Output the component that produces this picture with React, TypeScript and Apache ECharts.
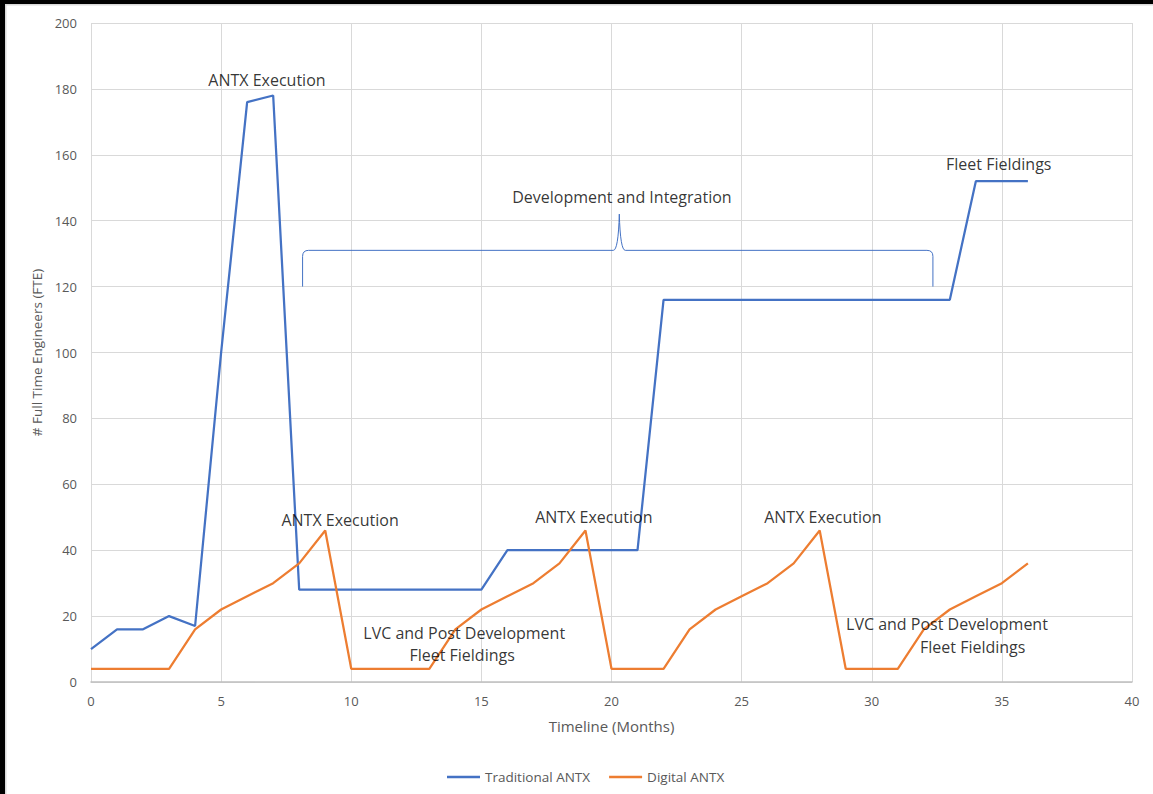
import React, { useEffect, useRef } from "react";
import * as echarts from "echarts";

const months = [
  0, 1, 2, 3, 4, 5, 6, 7, 8, 9, 10, 11, 12, 13, 14, 15, 16, 17, 18, 19, 20, 21, 22, 23, 24, 25, 26, 27, 28, 29, 30,
  31, 32, 33, 34, 35, 36,
];
const traditional = [
  10, 16, 16, 20, 17, 100, 176, 178, 28, 28, 28, 28, 28, 28, 28, 28, 40, 40, 40, 40, 40, 40, 116, 116, 116, 116, 116,
  116, 116, 116, 116, 116, 116, 116, 152, 152, 152,
];
const digital = [
  4, 4, 4, 4, 16, 22, 26, 30, 36, 46, 4, 4, 4, 4, 16, 22, 26, 30, 36, 46, 4, 4, 4, 16, 22, 26, 30, 36, 46, 4, 4, 4, 16,
  22, 26, 30, 36,
];

const seriesNames = ["Traditional ANTX", "Digital ANTX"];

const annotationTexts = [
  "ANTX Execution",
  "ANTX Execution",
  "ANTX Execution",
  "ANTX Execution",
  "Fleet Fieldings",
  "Development and Integration",
  "LVC and Post Development",
  "Fleet Fieldings",
  "LVC and Post Development",
  "Fleet Fieldings",
];
const annotationX = [6.76, 9.57, 19.32, 28.12, 34.88, 20.4, 14.34, 14.26, 32.89, 33.88];
const annotationY = [182.7, 49.2, 50.1, 50.1, 157.2, 147.2, 14.9, 8.2, 17.6, 10.6];

const braceX = [8.13, 20.3, 32.35];
const braceY = [120, 131, 142];

const FONT = "'Open Sans', sans-serif";

export default function App() {
  const ref = useRef<HTMLDivElement>(null);

  useEffect(() => {
    if (!ref.current) return;
    const chart = echarts.init(ref.current, undefined, { renderer: "svg" });

    const option: any = {
      animation: false,
      backgroundColor: "#ffffff",
      textStyle: { fontFamily: FONT },
      grid: { left: 91, right: 21, top: 23, bottom: 112, containLabel: false },
      legend: {
        data: seriesNames,
        bottom: 10,
        left: 447,
        padding: 0,
        icon: "rect",
        itemWidth: 33,
        itemHeight: 2.5,
        itemGap: 19,
        textStyle: { color: "#595959", fontSize: 13.5, fontFamily: FONT },
      },
      xAxis: {
        type: "value",
        min: 0,
        max: 40,
        interval: 5,
        name: "Timeline (Months)",
        nameLocation: "middle",
        nameGap: 36,
        nameTextStyle: { color: "#595959", fontSize: 15, fontFamily: FONT },
        axisLine: { show: true, lineStyle: { color: "#BFBFBF", width: 1.5 } },
        axisTick: { show: false },
        axisLabel: { color: "#595959", fontSize: 13, margin: 12, fontFamily: FONT },
        splitLine: { show: true, lineStyle: { color: "#D9D9D9", width: 1 } },
      },
      yAxis: {
        type: "value",
        min: 0,
        max: 200,
        interval: 20,
        name: "# Full Time Engineers (FTE)",
        nameLocation: "middle",
        nameGap: 44,
        nameTextStyle: { color: "#595959", fontSize: 13.5, fontFamily: FONT },
        axisLine: { show: false },
        axisTick: { show: false },
        axisLabel: { color: "#595959", fontSize: 13, margin: 14, fontFamily: FONT },
        splitLine: { show: true, lineStyle: { color: "#D9D9D9", width: 1 } },
      },
      series: [
        {
          name: seriesNames[0],
          type: "line",
          data: months.map((m, i) => [m, traditional[i]]),
          symbol: "none",
          lineStyle: { color: "#4472C4", width: 2.25 },
          itemStyle: { color: "#4472C4" },
          z: 3,
        },
        {
          name: seriesNames[1],
          type: "line",
          data: months.map((m, i) => [m, digital[i]]),
          symbol: "none",
          lineStyle: { color: "#ED7D31", width: 2.25 },
          itemStyle: { color: "#ED7D31" },
          z: 4,
        },
        {
          name: "brace",
          type: "custom",
          silent: true,
          data: [[braceX[1], braceY[1]]],
          encode: { x: 0, y: 1 },
          z: 2,
          renderItem: (params: any, api: any) => {
            const l = api.coord([braceX[0], braceY[0]]);
            const h = api.coord([braceX[1], braceY[1]])[1];
            const t = api.coord([braceX[1], braceY[2]]);
            const r = api.coord([braceX[2], braceY[0]]);
            const c = 6;
            const d =
              `M${l[0]},${l[1]} L${l[0]},${h + c} Q${l[0]},${h} ${l[0] + c},${h} ` +
              `L${t[0] - 6},${h} Q${t[0] - 1},${h} ${t[0]},${t[1]} Q${t[0] + 1},${h} ${t[0] + 6},${h} ` +
              `L${r[0] - c},${h} Q${r[0]},${h} ${r[0]},${h + c} L${r[0]},${r[1]}`;
            return {
              type: "path",
              shape: { pathData: d },
              style: { stroke: "#4472C4", fill: "none", lineWidth: 1 },
            };
          },
        },
        {
          name: "annotations",
          type: "scatter",
          silent: true,
          symbolSize: 1,
          itemStyle: { color: "rgba(0,0,0,0)" },
          z: 5,
          data: annotationTexts.map((t, i) => ({ name: t, value: [annotationX[i], annotationY[i]] })),
          label: {
            show: true,
            position: "inside",
            formatter: "{b}",
            color: "#000000",
            fontSize: 16,
            fontFamily: FONT,
          },
        },
      ],
      graphic: [
        { type: "rect", left: 0, top: 0, shape: { width: 1153, height: 4 }, style: { fill: "#000" }, z: 100 },
        { type: "rect", left: 0, top: 0, shape: { width: 5, height: 794 }, style: { fill: "#000" }, z: 100 },
        { type: "rect", left: 5, top: 4, shape: { width: 1148, height: 1.5 }, style: { fill: "#D9D9D9" }, z: 100 },
        { type: "rect", left: 5, top: 4, shape: { width: 1.5, height: 790 }, style: { fill: "#D9D9D9" }, z: 100 },
      ],
    };

    chart.setOption(option);
    return () => chart.dispose();
  }, []);

  return (
    <div
      ref={ref}
      style={{ position: "fixed", left: 0, top: 0, width: 1153, height: 794, background: "#fff" }}
    />
  );
}
